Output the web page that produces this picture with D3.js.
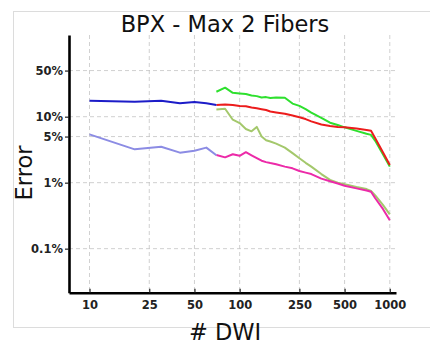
<!DOCTYPE html>
<html>
<head>
<meta charset="utf-8">
<script src="https://cdn.jsdelivr.net/npm/d3@7"></script>
<style>
  html, body { margin: 0; padding: 0; background: #fff; }
  svg { display: block; }
</style>
</head>
<body>
<svg id="chart" width="430" height="345"></svg>
<script>
// DATA (error in %, x = number of DWI)
const dwiEarly = [10, 20, 30, 40, 50, 60, 70];
const blueDark = [17.5, 16.9, 17.5, 16.0, 16.7, 16.0, 15.0];
const blueLight = [5.4, 3.2, 3.5, 2.85, 3.05, 3.4, 2.6];

const dwiLate = [70, 80, 90, 100, 110, 120, 130, 140, 150, 160, 175, 200, 225, 250, 275, 300, 350, 400, 450, 500, 600, 700, 750, 800, 900, 1000];
const redVals = [15.0, 15.3, 15.0, 14.5, 14.4, 13.8, 13.4, 13.0, 12.6, 12.0, 11.6, 11.1, 10.4, 9.8, 9.2, 8.5, 7.6, 7.2, 7.0, 6.9, 6.6, 6.3, 6.1, 4.7, 2.9, 1.85];
const greenVals = [23.9, 27.5, 23.0, 22.5, 22.0, 21.0, 20.5, 19.5, 19.8, 19.2, 19.6, 19.4, 15.8, 14.6, 13.0, 11.5, 9.6, 8.1, 7.5, 6.9, 6.1, 5.5, 5.3, 4.3, 2.7, 1.75];
const oliveVals = [12.9, 13.2, 9.0, 8.0, 6.5, 6.0, 7.0, 5.0, 4.4, 4.2, 3.9, 3.4, 2.8, 2.35, 2.0, 1.75, 1.35, 1.1, 1.0, 0.95, 0.86, 0.80, 0.75, 0.64, 0.46, 0.33];
const magentaVals = [2.63, 2.42, 2.7, 2.55, 2.9, 2.6, 2.35, 2.15, 2.05, 1.98, 1.9, 1.75, 1.65, 1.5, 1.42, 1.35, 1.15, 1.05, 0.97, 0.9, 0.82, 0.76, 0.73, 0.58, 0.40, 0.27];

const xTicks = [10, 25, 50, 100, 250, 500, 1000];
const yTicks = [0.1, 1, 5, 10, 50];
const yTickLabels = ["0.1%", "1%", "5%", "10%", "50%"];

const svg = d3.select("#chart");

// outer light frame
svg.append("rect")
    .attr("x", 13.5).attr("y", 11.5)
    .attr("width", 430).attr("height", 316)
    .attr("fill", "none")
    .attr("stroke", "#dcdcdc")
    .attr("stroke-width", 1);

const x = d3.scaleLog().domain([7.3, 1100]).range([69, 396]);
const y = d3.scaleLog().domain([0.0215, 173]).range([292.7, 35]);

// GRID
const grid = svg.append("g").attr("stroke", "#c4c4c4").attr("stroke-width", 0.8).attr("stroke-dasharray", "4,3");
grid.selectAll(".vg").data(xTicks).enter().append("line")
    .attr("x1", d => x(d)).attr("x2", d => x(d))
    .attr("y1", y.range()[1]).attr("y2", y.range()[0]);
grid.selectAll(".hg").data(yTicks).enter().append("line")
    .attr("x1", x.range()[0]).attr("x2", x.range()[1])
    .attr("y1", d => y(d)).attr("y2", d => y(d));

// LINES
const line = d3.line().x(d => x(d[0])).y(d => y(d[1]));
const series = [
    { xs: dwiLate, vals: greenVals, color: "#2ee02e" },
    { xs: dwiLate, vals: redVals, color: "#ec1c1c" },
    { xs: dwiLate, vals: oliveVals, color: "#a4c86c" },
    { xs: dwiLate, vals: magentaVals, color: "#ec2aa8" },
    { xs: dwiEarly, vals: blueLight, color: "#8c8ce4" },
    { xs: dwiEarly, vals: blueDark, color: "#1c1cc8" }
];
series.forEach(s => {
    svg.append("path")
        .datum(s.xs.map((d, i) => [d, s.vals[i]]))
        .attr("fill", "none")
        .attr("stroke", s.color)
        .attr("stroke-width", 2)
        .attr("stroke-linejoin", "round")
        .attr("d", line);
});

// AXES
const xAxis = svg.append("g")
    .attr("transform", "translate(0,292.7)")
    .call(d3.axisBottom(x).tickValues(xTicks).tickFormat(d3.format("d")).tickSizeInner(-4).tickSizeOuter(0));
const yAxis = svg.append("g")
    .attr("transform", "translate(69,0)")
    .call(d3.axisLeft(y).tickValues(yTicks).tickFormat((d, i) => yTickLabels[i]).tickSizeInner(4).tickSizeOuter(0).tickPadding(2));

[xAxis, yAxis].forEach(a => {
    a.select(".domain").attr("stroke", "#000").attr("stroke-width", 2.6);
    a.selectAll(".tick line").attr("stroke", "#222").attr("stroke-width", 1.2);
    a.selectAll("text")
        .attr("fill", "#222")
        .style("font-family", "'DejaVu Sans', sans-serif")
        .style("font-weight", "bold")
        .style("font-size", "11.5px");
});
xAxis.selectAll("text").attr("y", 8).attr("dy", "0.71em");

// LABELS
svg.append("text")
    .attr("x", 225).attr("y", 31.5)
    .attr("text-anchor", "middle")
    .style("font-family", "'DejaVu Sans', sans-serif")
    .style("font-size", "22.5px")
    .attr("fill", "#111")
    .text("BPX - Max 2 Fibers");

svg.append("text")
    .attr("transform", "translate(32,173) rotate(-90)")
    .attr("text-anchor", "middle")
    .style("font-family", "'DejaVu Sans', sans-serif")
    .style("font-size", "22.5px")
    .attr("fill", "#111")
    .text("Error");

svg.append("text")
    .attr("x", 225).attr("y", 340)
    .attr("text-anchor", "middle")
    .style("font-family", "'DejaVu Sans', sans-serif")
    .style("font-size", "22.5px")
    .attr("fill", "#111")
    .text("# DWI");
</script>
</body>
</html>
